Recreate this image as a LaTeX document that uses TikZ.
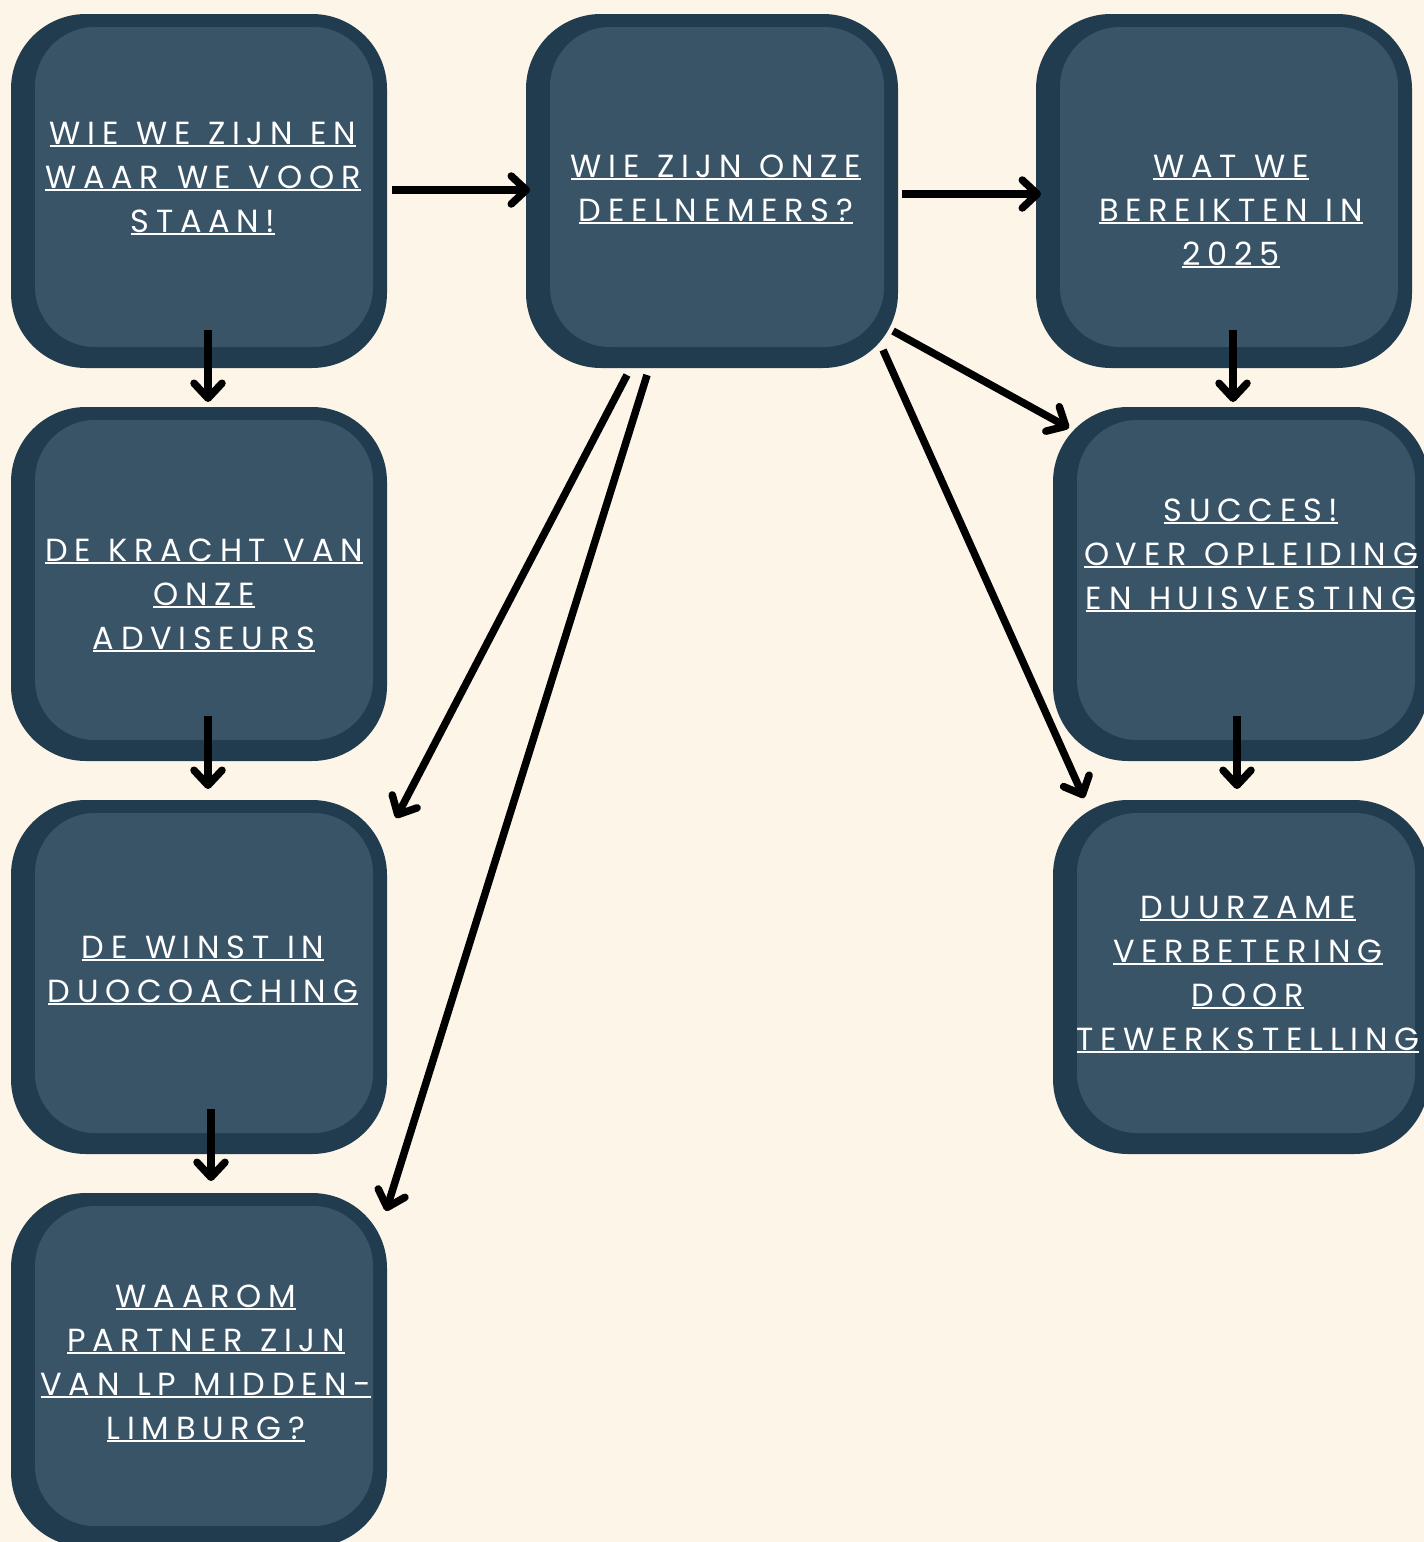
\documentclass[tikz,border=0pt]{standalone}
\usepackage{fontspec}
\setmainfont{Poppins}
\newfontfamily\labfont{Poppins}[LetterSpace=21,WordSpace=1.15]
\usetikzlibrary{arrows.meta,calc}
\definecolor{bg}{RGB}{252,245,232}
\definecolor{outerc}{RGB}{33,60,78}
\definecolor{innerc}{RGB}{57,83,103}
\newcommand\myul[1]{\setbox0\hbox{#1}\rlap{\rule[-3.3pt]{\wd0}{2.3pt}}\box0}
\newcommand\mkbox[5]{%
  \pgfmathsetmacro\bw{#4-#2}\pgfmathsetmacro\bh{#5-#3}%
  \pgfmathsetmacro\iw{\bw-38}\pgfmathsetmacro\ih{\bh-34}%
  \node[outerbox, minimum width=\bw pt, minimum height=\bh pt] (#1) at ({(#2+#4)/2},{(#3+#5)/2}) {};
  \node[innerbox, minimum width=\iw pt, minimum height=\ih pt] (#1i) at ({(#2+#4)/2+5},{(#3+#5)/2-4}) {};
}
\newcommand\lab[4]{\node[lbl] (#1) at (#2,#3) {\myul{#4}};}
\tikzset{
  outerbox/.style={fill=outerc, draw=none, rounded corners=75pt, inner sep=0pt, outer sep=0pt},
  innerbox/.style={fill=innerc, draw=none, rounded corners=60pt, inner sep=0pt, outer sep=0pt},
  lbl/.style={anchor=base, text=white, inner sep=0pt, font=\labfont\fontsize{32}{38}\selectfont},
  conn/.style={line width=7.5pt, -{Straight Barb[length=15pt,width=28pt,round]}},
}
\begin{document}
\begin{tikzpicture}[x=1pt,y=-1pt]
\useasboundingbox (0,0) rectangle (1424,1542);
\fill[bg] (0,0) rectangle (1424,1542);
\begin{scope}
\clip (0,0) rectangle (1424,1542);
\mkbox{L1}{11}{14}{387}{368}
\mkbox{L2}{11}{407}{387}{761}
\mkbox{L3}{11}{800}{387}{1154}
\mkbox{L4}{11}{1193}{387}{1547}
\mkbox{M}{526}{14}{898}{368}
\mkbox{R1}{1036}{14}{1412}{368}
\mkbox{R2}{1053}{407}{1429}{761}
\mkbox{R3}{1053}{800}{1429}{1154}
\end{scope}

\lab{L1a}{203}{144}{WIE WE ZIJN EN}
\lab{L1b}{203}{188}{WAAR WE VOOR}
\lab{L1c}{203}{232}{STAAN!}

\lab{Ma}{716}{177}{WIE ZIJN ONZE}
\lab{Mb}{716}{221}{DEELNEMERS?}

\lab{R1a}{1231}{177}{WAT WE}
\lab{R1b}{1231}{221}{BEREIKTEN IN}
\lab{R1c}{1231}{265}{2025}

\lab{L2a}{204}{561}{DE KRACHT VAN}
\lab{L2b}{204}{605}{ONZE}
\lab{L2c}{204}{649}{ADVISEURS}

\lab{L3a}{203}{958}{DE WINST IN}
\lab{L3b}{203}{1002}{DUOCOACHING}

\lab{L4a}{206}{1307}{WAAROM}
\lab{L4b}{206}{1351}{PARTNER ZIJN}
\lab{L4c}{206}{1395}{VAN LP MIDDEN-}
\lab{L4d}{206}{1439}{LIMBURG?}

\lab{R2a}{1251}{521}{SUCCES!}
\lab{R2b}{1251}{565}{OVER OPLEIDING}
\lab{R2c}{1251}{609}{EN HUISVESTING}

\lab{R3a}{1248}{918}{DUURZAME}
\lab{R3b}{1248}{962}{VERBETERING}
\lab{R3c}{1248}{1006}{DOOR}
\lab{R3d}{1248}{1050}{TEWERKSTELLING}

\coordinate (a1s) at (392,190);  \coordinate (a1e) at (530,190);
\coordinate (a2s) at (902,194);  \coordinate (a2e) at (1041,194);
\coordinate (a3s) at (208,330);  \coordinate (a3e) at (208,402);
\coordinate (a4s) at (208,716);  \coordinate (a4e) at (208,789);
\coordinate (a5s) at (211,1109); \coordinate (a5e) at (211,1181);
\coordinate (a6s) at (1233,330); \coordinate (a6e) at (1233,402);
\coordinate (a7s) at (1237,716); \coordinate (a7e) at (1237,789);
\coordinate (a8s) at (893,331);  \coordinate (a8e) at (1069,428);
\coordinate (a9s) at (883,350);  \coordinate (a9e) at (1084,798);
\coordinate (a10s) at (627,375); \coordinate (a10e) at (396,818);
\coordinate (a11s) at (647,375); \coordinate (a11e) at (386,1211);

\foreach \i in {1,...,11} {\draw[conn] (a\i s) -- (a\i e);}
\end{tikzpicture}
\end{document}
